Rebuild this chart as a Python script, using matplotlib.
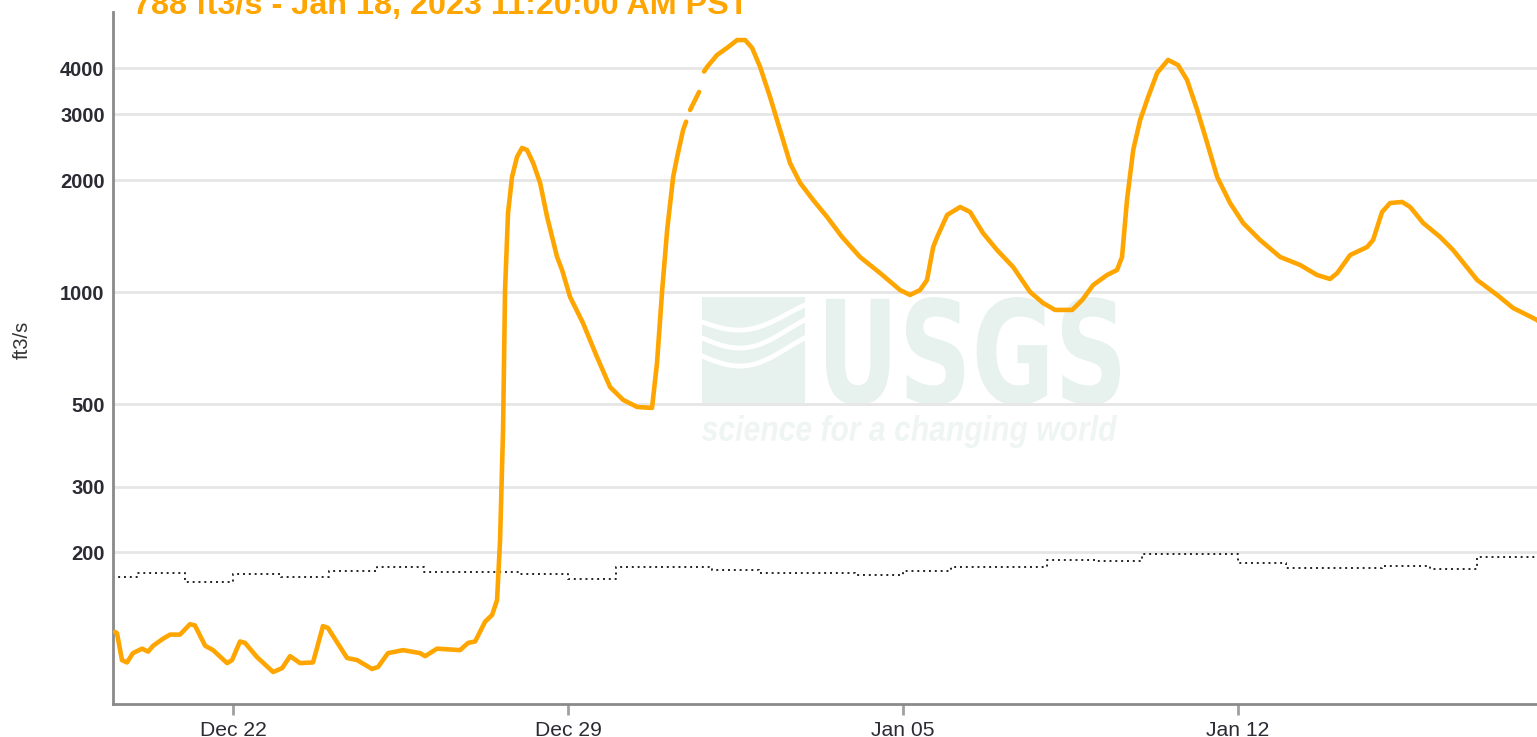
import numpy as np
import pandas as pd
import matplotlib
matplotlib.use("Agg")
import matplotlib.pyplot as plt
from matplotlib.textpath import TextPath
from matplotlib.font_manager import FontProperties
from matplotlib.patches import PathPatch, Rectangle
from matplotlib.transforms import Affine2D
from matplotlib.ticker import FixedLocator, NullLocator

plt.rcParams['font.family'] = ['Liberation Sans', 'DejaVu Sans']

# ---------------- data ----------------
base_date = "2022-12-22 00:00"
# discharge, hours after base_date (NaN = gap in record)
flow_hours = [-59.2, -58.2, -55.7, -53.2, -50.2, -45.6, -42.6, -40.1, -35.1, -31.6,
              -26.6, -21.6, -19.1, -14.0, -10.0, -3.0, -0.5, 3.5, 6.0, 12.0,
              20.1, 24.6, 28.6, 33.6, 40.1, 45.1, 47.6, 57.2, 62.2, 69.7,
              72.7, 77.7, 85.3, 93.8, 96.3, 102.3, 113.8, 117.9, 121.4, 126.4,
              129.9, 132.4, 133.9, 135.4, 136.4, 137.9, 139.9, 142.4, 144.9, 147.4,
              150.5, 154.0, 157.5, 162.5, 165.0, 169.0, 175.5, 182.5, 189.1, 195.6,
              202.6, 210.1, 212.6, 215.2, 217.7, 220.7, 222.7, 225.7, 227.2, 228.2,
              229.2, 233.7, 235.0, 236.2, 237.7, 242.7, 247.7, 252.8, 256.8, 260.3,
              264.3, 269.3, 274.3, 279.3, 284.4, 290.9, 297.9, 305.4, 314.4, 324.5,
              334.5, 339.5, 344.5, 348.0, 351.1, 353.1, 358.1, 364.6, 369.6, 376.1,
              383.1, 391.2, 399.7, 406.2, 412.2, 420.8, 425.8, 431.3, 438.3, 443.3,
              445.8, 448.3, 451.4, 454.9, 458.9, 463.4, 468.9, 473.9, 478.4, 483.5,
              488.5, 493.5, 500.0, 506.5, 515.0, 525.1, 535.1, 543.6, 550.1, 553.7,
              560.2, 568.7, 571.7, 576.2, 580.2, 586.3, 590.3, 596.8, 605.3, 611.8,
              623.9, 633.9, 641.9, 653.9, 659.3]
flow_values = [122, 121, 102.5, 101, 107, 110, 108, 112, 117, 120,
               120, 128, 127, 112, 109, 100.6, 102.5, 115, 114, 104.4,
               95.2, 97.5, 105, 100.6, 101, 126.5, 125, 103.8, 102.5, 97,
               98.2, 107, 109, 107, 105, 110, 109, 114, 115, 130,
               135.5, 148.6, 215, 425.6, 1012, 1631, 2038, 2306, 2439, 2408,
               2222, 1963, 1591, 1242, 1146, 970, 825, 669, 555, 513,
               491, 488, 644, 1012, 1468, 2038, 2306, 2726, 2870, np.nan,
               3085, 3449, np.nan, 3914, 4026, 4335, 4529, 4756, 4756, 4529,
               4026, 3343, 2726, 2222, 1963, 1767, 1591, 1406, 1242, 1124,
               1012, 982, 1012, 1077, 1321, 1406, 1611, 1692, 1641, 1440,
               1297, 1167, 1000, 934, 895, 895, 951, 1044, 1111, 1146,
               1242, 1767, 2408, 2900, 3343, 3879, 4205, 4074, 3715, 3085,
               2515, 2038, 1734, 1533, 1380, 1242, 1182, 1111, 1084, 1124,
               1257, 1321, 1380, 1641, 1734, 1746, 1692, 1533, 1406, 1297,
               1077, 982, 906, 841, 788]

# daily median statistic (step line)
median_days = ["2022-12-19", "2022-12-20", "2022-12-21", "2022-12-22", "2022-12-23",
               "2022-12-24", "2022-12-25", "2022-12-26", "2022-12-27", "2022-12-28",
               "2022-12-29", "2022-12-30", "2022-12-31", "2023-01-01", "2023-01-02",
               "2023-01-03", "2023-01-04", "2023-01-05", "2023-01-06", "2023-01-07",
               "2023-01-08", "2023-01-09", "2023-01-10", "2023-01-11", "2023-01-12",
               "2023-01-13", "2023-01-14", "2023-01-15", "2023-01-16", "2023-01-17",
               "2023-01-18", "2023-01-19"]
median_values = [171, 176, 166, 175, 171, 178, 182, 177, 177, 175,
                 169, 182, 182, 179, 176, 176, 174, 178, 182, 182,
                 191, 189, 198, 198, 187, 181, 181, 184, 180, 194,
                 194, 194]

title_text = "788 ft3/s - Jan 18, 2023 11:20:00 AM PST"
y_ticks = [200, 300, 500, 1000, 2000, 3000, 4000]
y_tick_labels = ["200", "300", "500", "1000", "2000", "3000", "4000"]
x_ticks = ["2022-12-22", "2022-12-29", "2023-01-05", "2023-01-12"]
x_tick_labels = ["Dec 22", "Dec 29", "Jan 05", "Jan 12"]
x_range_hours = (-60.2, 653.9)
y_range = (78.1, 5657)

# ---------------- figure ----------------
W, H = 1537, 737
fig = plt.figure(figsize=(W / 100, H / 100), dpi=100)
fig.patch.set_facecolor("white")
ax = fig.add_axes([113 / W, (H - 704) / H, (W - 113) / W, (704 - 12) / H])
ax.set_facecolor("none")

base = pd.Timestamp(base_date)
flow_t = base + pd.to_timedelta(flow_hours, unit="h")
med_t = pd.to_datetime(median_days)

ax.set_yscale("log")
ax.plot(flow_t, flow_values, color="#FFA500", lw=3.3,
        solid_capstyle="round", solid_joinstyle="round", zorder=3)
ax.plot(med_t, median_values, drawstyle="steps-post", color="#222222",
        lw=1.4, ls=(0, (1, 2.0)), zorder=2)

ax.set_xlim(base + pd.Timedelta(hours=x_range_hours[0]),
            base + pd.Timedelta(hours=x_range_hours[1]))
ax.set_ylim(*y_range)

ax.yaxis.set_major_locator(FixedLocator(y_ticks))
ax.yaxis.set_minor_locator(NullLocator())
ax.set_yticklabels(y_tick_labels)
ax.set_xticks(pd.to_datetime(x_ticks))
ax.set_xticklabels(x_tick_labels)
ax.xaxis.set_minor_locator(NullLocator())

ax.yaxis.grid(True, color="#e6e6e6", lw=2)
ax.set_axisbelow(True)

for s in ["top", "right"]:
    ax.spines[s].set_visible(False)
for s in ["left", "bottom"]:
    ax.spines[s].set_color("#8a8a8a")
    ax.spines[s].set_linewidth(2)

ax.tick_params(axis="y", length=0, pad=6, labelsize=14.5, labelcolor="#2b2b33")
ax.tick_params(axis="x", length=8, width=2, color="#a0a0a0", pad=4,
               labelsize=15.2, labelcolor="#2b2b33")
for lbl in ax.get_yticklabels():
    lbl.set_fontweight("bold")

fig.text(22 / W, 1 - 340 / H, "ft3/s", rotation=90, ha="center", va="center",
         fontsize=14.5, color="#333333")
fig.text(133 / W, 1 - 14 / H, title_text, ha="left", va="baseline",
         fontsize=23.3, fontweight="bold", color="#FFA500")

# ---------------- USGS watermark ----------------
wm_color = "#e7f1ee"


def px_box_transform(path, x0, y0, x1, y1):
    ext = path.get_extents()
    sx = (x1 - x0) / ext.width
    sy = (y1 - y0) / ext.height
    return (Affine2D().translate(-ext.x0, -ext.y0).scale(sx, sy)
            .translate(x0, H - y1).scale(1 / W, 1 / H))


def fit_text(s, x0, y0, x1, y1, prop, color):
    tp = TextPath((0, 0), s, size=100, prop=prop)
    tr = px_box_transform(tp, x0, y0, x1, y1)
    patch = PathPatch(tr.transform_path(tp), facecolor=color,
                      edgecolor="none", transform=fig.transFigure, zorder=-1)
    fig.add_artist(patch)


fit_text("USGS", 826, 297, 1120, 405,
         FontProperties(family="Liberation Sans Narrow", weight="bold"), wm_color)
fit_text("science for a changing world", 702, 415, 1117, 448,
         FontProperties(family="Liberation Sans", weight="bold", style="italic"),
         "#eef5f3")

blk = Rectangle((702 / W, 1 - 405 / H), (805 - 702) / W, (405 - 297) / H,
                facecolor=wm_color, edgecolor="none", transform=fig.transFigure,
                zorder=-1)
fig.add_artist(blk)
tt = np.linspace(0, 1, 60)
for y_base, amp in [(322, 12), (338, 14), (356, 14)]:
    xs = 702 + 103 * tt
    ys = y_base + amp * np.sin(np.pi * tt * 1.2) - 10 * tt
    fig.add_artist(plt.Line2D(xs / W, 1 - ys / H, color="white", lw=3.5,
                              transform=fig.transFigure, zorder=-0.5))

fig.savefig("out.png", dpi=100, facecolor="white")
